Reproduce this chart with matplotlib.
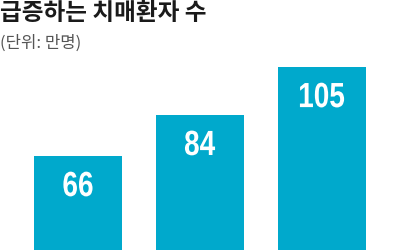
import matplotlib
matplotlib.use("Agg")
import matplotlib.pyplot as plt
from matplotlib.textpath import TextPath
from matplotlib.patches import PathPatch
from matplotlib.font_manager import FontProperties
from matplotlib.transforms import Affine2D, ScaledTranslation

categories = ["A", "B", "C"]
values = [66, 84, 105]
labels = ["66", "84", "105"]
title = "급증하는 치매환자 수"
subtitle = "(단위: 만명)"

fig = plt.figure(figsize=(4, 2.5), dpi=100)
ax = fig.add_axes([0, 0, 1, 1])
x = list(range(len(values)))
ax.bar(x, values, width=0.72, color="#00a9cc", bottom=0)
ax.set_xlim(-0.639, 2.639)
ax.set_ylim(24.8, 134.4)
ax.axis("off")

fp = FontProperties(family="Liberation Sans", weight="bold")
for xi, v, lab in zip(x, values, labels):
    tp = TextPath((0, 0), lab, size=35, prop=fp)
    ext = tp.get_extents()
    cx = (ext.x0 + ext.x1) / 2
    cy = (ext.y0 + ext.y1) / 2
    tr = (Affine2D().translate(-cx, -cy).scale(0.8, 1.0).translate(0, -28)
          + ScaledTranslation(xi, v, ax.transData))
    ax.add_patch(PathPatch(tp, transform=tr, facecolor="white", edgecolor="none"))

fig.text(0.0, 0.998, title, ha="left", va="top", fontsize=17, fontweight="heavy",
         color="#1a1a1a", family=["Noto Sans CJK KR", "DejaVu Sans"])
fig.text(0.0, 0.86, subtitle, ha="left", va="top", fontsize=12,
         color="#555555", family=["Noto Sans CJK KR", "DejaVu Sans"])

fig.savefig("out.png", dpi=100)
